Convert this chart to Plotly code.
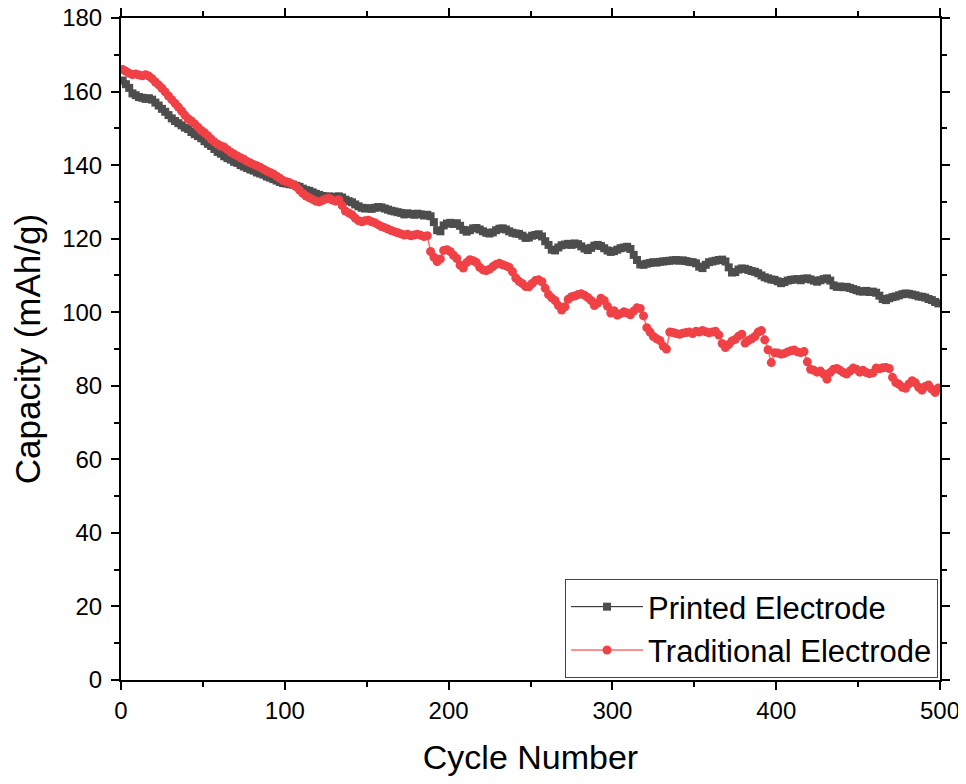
import plotly.graph_objects as go

# Cycle numbers (odd cycles 1..499)
cycles = list(range(1, 500, 2))

printed_capacity = [
    163.0, 162.0, 161.0, 159.5, 159.0, 158.5, 158.3, 158.0, 158.2, 157.8,
    157.0, 156.2, 155.3, 154.5, 153.6, 152.7, 152.0, 151.4, 150.8, 150.2,
    149.8, 149.0, 148.4, 147.9, 147.3, 146.5, 145.8, 145.2, 144.4, 143.6,
    143.1, 142.4, 141.9, 141.5, 140.9, 140.6, 140.0, 139.6, 139.2, 138.8,
    138.5, 138.0, 137.7, 137.4, 136.9, 136.6, 136.2, 135.8, 135.4, 135.1,
    135.0, 134.8, 134.7, 134.4, 134.1, 133.6, 133.2, 133.0, 132.6, 132.2,
    131.9, 131.6, 131.4, 131.5, 131.3, 131.4, 131.5, 131.2, 130.6, 130.2,
    129.9, 129.3, 128.8, 128.4, 128.2, 128.3, 128.1, 128.4, 128.6, 128.5,
    128.2, 127.9, 127.6, 127.4, 127.2, 127.0, 126.6, 126.9, 126.7, 126.5,
    126.8, 126.6, 126.3, 126.5, 126.1, 124.5, 122.3, 122.0, 123.6, 124.1,
    124.3, 124.0, 124.2, 123.5, 122.4, 121.9, 122.3, 122.8, 122.9, 122.5,
    122.0, 121.6, 121.4, 121.7, 122.3, 122.7, 122.8, 122.5, 122.0, 121.6,
    121.4, 121.3, 120.8, 120.2, 120.3, 120.8, 121.0, 121.2, 120.6, 119.3,
    118.3, 117.0, 116.8, 117.6, 118.2, 118.4, 118.6, 118.3, 118.7, 118.5,
    117.9, 117.3, 116.9, 117.5, 118.1, 118.3, 118.0, 117.4, 116.8, 116.4,
    116.6, 117.0, 117.4, 117.6, 117.8, 117.2, 115.6, 114.2, 113.0, 112.9,
    113.2, 113.4, 113.6, 113.5, 113.7, 113.8, 113.9, 114.0, 114.1, 114.2,
    114.0, 114.1, 113.9, 113.7, 113.6, 113.3, 112.4, 112.0, 112.9, 113.6,
    113.8, 114.0, 114.2, 114.3, 113.8, 112.2, 110.8, 110.9, 111.6, 111.9,
    111.8, 111.5, 111.2, 111.0, 110.6, 110.0, 109.5, 109.2, 108.9, 108.8,
    108.4, 107.9, 108.2, 108.6, 108.8, 108.9, 109.0, 108.7, 109.1, 109.2,
    108.9, 108.6, 108.3, 108.7, 109.0, 109.2, 108.6, 107.3, 106.9, 107.0,
    106.8, 106.9, 106.6, 106.3, 106.0, 105.7, 105.6, 105.8, 105.5, 105.6,
    105.3, 104.5, 103.6, 103.3, 103.8, 104.1, 104.3, 104.6, 104.9, 105.1,
    105.0, 104.8, 104.6, 104.3, 104.2, 104.0, 103.6, 103.3, 102.8, 102.4,
]

traditional_capacity = [
    166.0, 165.5, 165.0, 164.6, 164.8, 164.5, 164.3, 164.6, 164.2, 163.5,
    162.6, 161.8, 160.9, 159.9, 158.8, 157.8, 156.8, 155.8, 154.7, 153.6,
    152.6, 152.0, 151.2, 150.3, 149.4, 148.8, 148.0, 147.1, 146.3, 145.7,
    145.2, 144.9, 144.2, 143.5, 143.0, 142.5, 142.0, 141.6, 141.0, 140.6,
    140.2, 139.8, 139.4, 138.9, 138.4, 138.0, 137.6, 137.0, 136.4, 135.8,
    135.5, 135.2, 134.7, 134.1, 133.2, 132.3, 131.6, 131.1, 130.7, 130.2,
    130.0, 130.4, 130.8, 131.0, 130.5, 130.2, 130.6, 129.0, 127.5, 127.0,
    126.5, 125.6, 124.9, 124.6, 124.9, 125.0, 124.6, 124.3, 123.8, 123.3,
    123.0, 122.6, 122.2, 121.9, 121.6, 121.3, 121.0, 121.2, 120.8, 121.0,
    121.2, 120.9, 120.6, 120.8, 116.5, 115.0, 113.8, 114.5, 116.8, 117.0,
    116.5, 115.5, 114.6, 112.8, 112.0, 113.5, 114.3, 114.0, 113.5, 112.2,
    111.5, 111.3, 111.7, 112.4, 113.0, 113.3, 112.9, 112.6, 112.2, 111.0,
    109.3, 108.4, 107.8, 107.0, 106.9, 107.8, 108.6, 108.8, 108.3, 106.5,
    104.8, 103.9, 103.2, 101.8, 100.6, 101.5, 103.5, 104.2, 104.4, 104.8,
    105.0, 104.6, 104.0, 103.2, 101.8, 102.5, 103.8, 103.2, 101.6, 99.8,
    100.4, 99.2, 99.6, 100.1, 99.8, 99.3, 100.3, 101.2, 101.0, 99.0,
    95.8, 94.6, 93.4, 92.8, 92.3, 90.8, 90.0, 94.6, 94.5, 94.2,
    94.0, 94.3, 94.5, 94.6, 94.2, 94.8, 94.6, 95.0, 94.7, 94.4,
    94.6, 94.8, 93.8, 91.5, 90.4, 91.2, 92.2, 92.6, 93.5, 94.0,
    91.6, 92.3, 92.8, 93.4, 94.6, 95.0, 92.5, 89.8, 86.3, 89.0,
    88.9, 88.6, 88.8, 89.2, 89.5, 89.7, 89.2, 89.0, 89.3, 86.5,
    84.5, 84.2, 83.7, 84.0, 83.2, 81.8, 83.6, 84.5, 84.7, 84.2,
    83.6, 83.2, 84.0, 84.8, 84.5, 83.7, 84.2, 83.6, 83.3, 83.5,
    84.8, 84.6, 84.9, 85.0, 84.7, 82.3, 80.9, 80.4, 79.6, 79.3,
    80.5, 81.4, 80.8, 79.6, 78.8, 79.8, 80.2, 79.1, 78.2, 79.4,
]

x_tick_vals = [0, 100, 200, 300, 400, 500]
y_tick_vals = [0, 20, 40, 60, 80, 100, 120, 140, 160, 180]

FONT = "Liberation Sans, Arial, sans-serif"

fig = go.Figure()
fig.add_trace(go.Scatter(
    x=cycles, y=printed_capacity, name="Printed Electrode",
    mode="lines+markers",
    line=dict(color="#1a1a1a", width=1),
    marker=dict(symbol="square", size=8, color="#4d4d4d"),
))
fig.add_trace(go.Scatter(
    x=cycles, y=traditional_capacity, name="Traditional Electrode",
    mode="lines+markers",
    line=dict(color="#ff6b6b", width=1.5),
    marker=dict(symbol="circle", size=9, color="#f04146"),
))

axis_common = dict(
    showline=True, linecolor="black", linewidth=2, mirror="allticks",
    ticks="outside", ticklen=8, tickwidth=2, tickcolor="black",
    showgrid=False, zeroline=False, automargin=False,
    ticklabeloverflow="allow",
    tickfont=dict(family=FONT, size=24, color="black"),
)

fig.update_xaxes(
    range=[0, 500], tickvals=x_tick_vals,
    title=dict(text="Cycle Number", font=dict(family=FONT, size=34, color="black"), standoff=24),
    minor=dict(dtick=50, ticklen=5, tickwidth=2, tickcolor="black", ticks="outside", showgrid=False),
    ticklabelstandoff=0,
    **axis_common,
)
fig.update_yaxes(
    range=[0, 180], tickvals=y_tick_vals,
    title=dict(text="Capacity (mAh/g)", font=dict(family=FONT, size=35, color="black"), standoff=21),
    minor=dict(dtick=10, ticklen=5, tickwidth=2, tickcolor="black", ticks="outside", showgrid=False),
    ticklabelstandoff=4,
    **axis_common,
)

# page body has an 8px margin, so the figure is sized/placed to compensate
fig.update_layout(
    width=958, height=768,
    margin=dict(l=113, r=26, t=10, b=96),
    paper_bgcolor="white", plot_bgcolor="white",
    showlegend=True,
    legend=dict(
        x=0.9976, y=0.003, xanchor="right", yanchor="bottom",
        bgcolor="white", bordercolor="#444444", borderwidth=1,
        font=dict(family=FONT, size=31, color="black"),
        tracegroupgap=0, itemwidth=72,
    ),
)

fig.write_html("out.html")
